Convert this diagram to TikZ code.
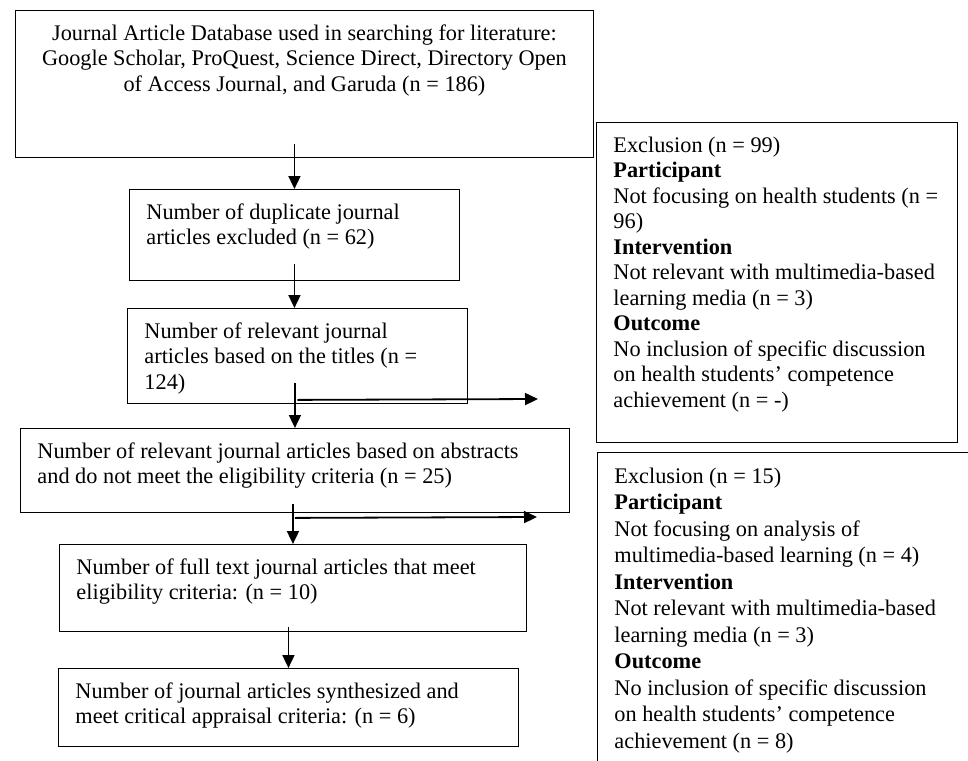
\documentclass[tikz,border=0pt]{standalone}
\usepackage{fontspec}
\setmainfont{Liberation Serif}
\usetikzlibrary{arrows.meta}

\begin{document}
\begin{tikzpicture}[x=1pt,y=-1pt,
  box/.style n args={3}{draw, line width=0.9pt, anchor=north west,
    inner xsep=17pt, inner ysep=12pt, font=\fontsize{22.3}{25.5}\selectfont,
    execute at begin node={\begin{minipage}[c][#2][t]{#1}#3\rightskip=0pt plus 1fil minus 20pt\strut},
    execute at end node={\end{minipage}}},
  arr/.style={line width=1.8pt, -{Triangle[length=13pt,width=12pt]}}]
\useasboundingbox (0,0) rectangle (968,760);
\node[box={544pt}{123pt}{\centering}] (top) at (15,10) {Journal Article Database used in searching for literature:\\
  Google Scholar, ProQuest, Science Direct, Directory Open\\
  of Access Journal, and Garuda (n = 186)};
\node[box={296pt}{67pt}{\raggedright}] (dup) at (129,189) {Number of duplicate journal\\
  articles excluded (n = 62)};
\node[box={306pt}{71pt}{\raggedright}] (titles) at (127,308) {Number of relevant journal\\
  articles based on the titles (n =\\
  124)};
\node[box={515pt}{60pt}{\raggedright}] (abs) at (20,428) {Number of relevant journal articles based on abstracts\\
  and do not meet the eligibility criteria (n = 25)};
\node[box={433pt}{63pt}{\raggedright}] (full) at (59,544) {Number of full text journal articles that meet\\
  eligibility criteria: (n = 10)};
\node[box={426pt}{54pt}{\raggedright}] (synth) at (58,668) {Number of journal articles synthesized and\\
  meet critical appraisal criteria: (n = 6)};
\node[box={327pt}{296pt}{\raggedright}] (excla) at (596,122) {Exclusion (n = 99)\\
  \textbf{Participant}\\
  Not focusing on health students (n =\\
  96)\\
  \textbf{Intervention}\\
  Not relevant with multimedia-based\\
  learning media (n = 3)\\
  \textbf{Outcome}\\
  No inclusion of specific discussion\\
  on health students’ competence\\
  achievement (n = -)};
\node[box={340pt}{300pt}{\raggedright}, font=\fontsize{22.3}{26.5}\selectfont] (exclb) at (597,452) {Exclusion (n = 15)\\
  \textbf{Participant}\\
  Not focusing on analysis of\\
  multimedia-based learning (n = 4)\\
  \textbf{Intervention}\\
  Not relevant with multimedia-based\\
  learning media (n = 3)\\
  \textbf{Outcome}\\
  No inclusion of specific discussion\\
  on health students’ competence\\
  achievement (n = 8)};
\coordinate (ea) at (538,399);
\coordinate (eb) at (537,517);
\draw[arr] ([yshift=14pt]top.south -| dup.north) -- (dup.north);
\draw[arr] ([yshift=17pt]dup.south) -- (dup.south |- titles.north);
\draw[arr] ([yshift=21pt]titles.south -| abs.north) -- (abs.north);
\draw[arr] ([yshift=9pt]abs.south -| full.north) -- (full.north);
\draw[arr] ([yshift=5pt]full.south -| synth.north) -- (synth.north);
\draw[arr] ([yshift=4pt]titles.south) -- (ea);
\draw[arr] ([yshift=-5pt]abs.south) -- (eb);
\end{tikzpicture}
\end{document}
